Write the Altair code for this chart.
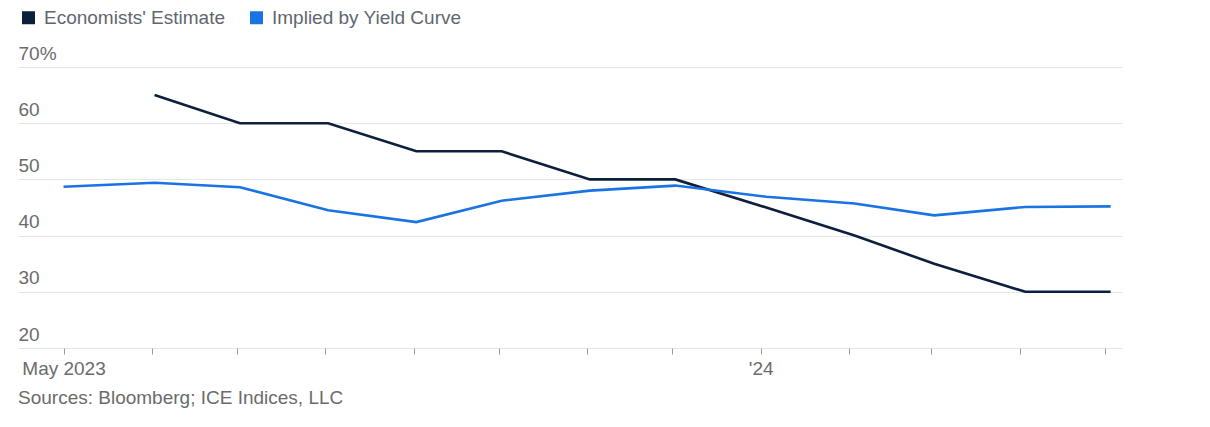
import altair as alt
import pandas as pd

# Economists' Estimate (survey dates, approximately monthly)
econ_dates = ["2023-06-02", "2023-07-02", "2023-08-02", "2023-09-02", "2023-10-02",
              "2023-11-02", "2023-12-02", "2024-01-03", "2024-02-03", "2024-03-02",
              "2024-04-03", "2024-05-03"]
econ_values = [65, 60, 60, 55, 55, 50, 50, 45, 40, 35, 30, 30]

# Implied by Yield Curve
curve_dates = ["2023-05-01", "2023-06-02", "2023-07-02", "2023-08-02", "2023-09-02",
               "2023-10-02", "2023-11-02", "2023-12-02", "2024-01-03", "2024-02-03",
               "2024-03-02", "2024-04-03", "2024-05-03"]
curve_values = [48.7, 49.4, 48.6, 44.5, 42.4, 46.2, 48.0, 48.9, 46.9, 45.7, 43.6, 45.1, 45.2]

series_names = ["Economists' Estimate", "Implied by Yield Curve"]
series_colors = ["#0c1f3d", "#1a73e3"]

df = pd.concat([
    pd.DataFrame({"date": econ_dates, "value": econ_values, "series": series_names[0]}),
    pd.DataFrame({"date": curve_dates, "value": curve_values, "series": series_names[1]}),
])

FONT = "Liberation Sans"
GRAY = "#6b6b6b"
FS = 19

label_expr = (
    "utcmonth(datum.value) == 4 && utcyear(datum.value) == 2023 ? 'May 2023' : "
    "(utcmonth(datum.value) == 0 ? \"'\" + utcFormat(datum.value, '%y') : '')"
)

chart = alt.Chart(df).mark_line(strokeWidth=2.6, strokeJoin="miter").encode(
    x=alt.X(
        "date:T",
        scale=alt.Scale(type="utc", domain=["2023-04-15", "2024-05-07"]),
        axis=alt.Axis(
            title=None,
            grid=False,
            domain=False,
            ticks=True,
            tickSize=6,
            tickColor="#9a9a9a",
            tickWidth=1,
            tickCount=alt.TimeIntervalStep(interval="month", step=1),
            labelExpr=label_expr,
            labelFont=FONT,
            labelFontSize=FS,
            labelColor=GRAY,
            labelPadding=5,
            labelOverlap=False,
            labelFlush=False,
        ),
    ),
    y=alt.Y(
        "value:Q",
        scale=alt.Scale(domain=[20, 70], nice=False, zero=False),
        axis=alt.Axis(
            title=None,
            values=[20, 30, 40, 50, 60, 70],
            labelExpr="datum.value == 70 ? datum.value + '%' : datum.value",
            domain=False,
            ticks=False,
            grid=True,
            gridColor="#e6e6e6",
            gridWidth=1,
            labelAlign="left",
            labelBaseline="bottom",
            labelPadding=0,
            labelOffset=-4,
            labelFont=FONT,
            labelFontSize=FS,
            labelColor=GRAY,
        ),
    ),
    color=alt.Color(
        "series:N",
        scale=alt.Scale(domain=series_names, range=series_colors),
        legend=alt.Legend(
            title=None,
            orient="none",
            legendX=1,
            legendY=-59,
            direction="horizontal",
            symbolType="square",
            symbolSize=36,
            symbolStrokeWidth=7,
            labelFont=FONT,
            labelFontSize=FS,
            labelColor="#5f6670",
            labelOffset=6,
            labelLimit=400,
            columnPadding=13,
            padding=0,
        ),
    ),
).properties(
    width=1104,
    height=281,
    padding={"left": 10, "top": 59, "right": 80, "bottom": 70},
    autosize=alt.AutoSizeParams(type="none"),
    title=alt.TitleParams(
        text="Sources: Bloomberg; ICE Indices, LLC",
        orient="bottom",
        anchor="start",
        font=FONT,
        fontSize=FS,
        fontWeight="normal",
        color=GRAY,
        offset=11,
    ),
).configure_view(stroke=None)

chart.save("out.html", embed_options={"renderer": "svg", "actions": False})
